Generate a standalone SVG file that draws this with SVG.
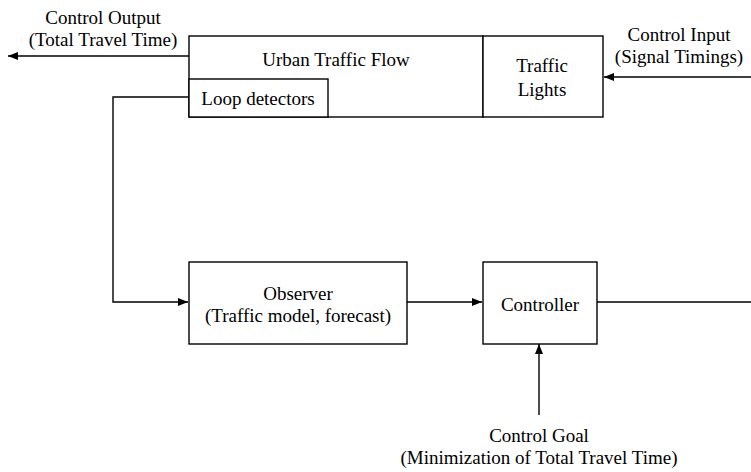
<svg xmlns="http://www.w3.org/2000/svg" width="751" height="472" viewBox="0 0 751 472">
<defs>
<style>
.box{fill:#fff;stroke:#000;stroke-width:1.4}
.ln{fill:none;stroke:#000;stroke-width:1.4}
</style>
<marker id="ah" viewBox="0 0 10 8" refX="10" refY="4" markerWidth="10" markerHeight="8" markerUnits="userSpaceOnUse" orient="auto">
<path d="M0,0 L10,4 L0,8 Z" fill="#000"/>
</marker>
</defs>
<g id="connectors">
<path class="ln" d="M189,56 L8,56" marker-end="url(#ah)"/>
<path class="ln" d="M751,77 L604,77" marker-end="url(#ah)"/>
<path class="ln" d="M189,97 L113,97 L113,302 L188,302" marker-end="url(#ah)"/>
<path class="ln" d="M407,302 L482,302" marker-end="url(#ah)"/>
<path class="ln" d="M597,302 L751,302"/>
<path class="ln" d="M539,415 L539,344" marker-end="url(#ah)"/>
</g>
<g id="urban-traffic-flow">
<rect class="box" x="189" y="36" width="294" height="81"/>
<text x="336" y="66" font-family="Liberation Serif" font-size="19" text-anchor="middle">Urban Traffic Flow</text>
</g>
<g id="traffic-lights">
<rect class="box" x="483" y="36" width="120" height="81"/>
<text x="542" y="72" font-family="Liberation Serif" font-size="19" text-anchor="middle">Traffic</text>
<text x="542" y="96" font-family="Liberation Serif" font-size="19" text-anchor="middle">Lights</text>
</g>
<g id="loop-detectors">
<rect class="box" x="189" y="79" width="139" height="38"/>
<text x="258" y="105" font-family="Liberation Serif" font-size="19" text-anchor="middle">Loop detectors</text>
</g>
<g id="observer">
<rect class="box" x="189" y="262" width="218" height="82"/>
<text x="298" y="300" font-family="Liberation Serif" font-size="19" text-anchor="middle">Observer</text>
<text x="298" y="322" font-family="Liberation Serif" font-size="19" text-anchor="middle">(Traffic model, forecast)</text>
</g>
<g id="controller">
<rect class="box" x="483" y="262" width="114" height="82"/>
<text x="540" y="311" font-family="Liberation Serif" font-size="19" text-anchor="middle">Controller</text>
</g>
<g id="control-output">
<text x="103" y="24" font-family="Liberation Serif" font-size="19" text-anchor="middle">Control Output</text>
<text x="103" y="46" font-family="Liberation Serif" font-size="19" text-anchor="middle">(Total Travel Time)</text>
</g>
<g id="control-input">
<text x="679" y="41" font-family="Liberation Serif" font-size="19" text-anchor="middle">Control Input</text>
<text x="679" y="63" font-family="Liberation Serif" font-size="19" text-anchor="middle">(Signal Timings)</text>
</g>
<g id="control-goal">
<text x="539" y="442" font-family="Liberation Serif" font-size="19" text-anchor="middle">Control Goal</text>
<text x="539" y="464" font-family="Liberation Serif" font-size="19" text-anchor="middle">(Minimization of Total Travel Time)</text>
</g>
</svg>
